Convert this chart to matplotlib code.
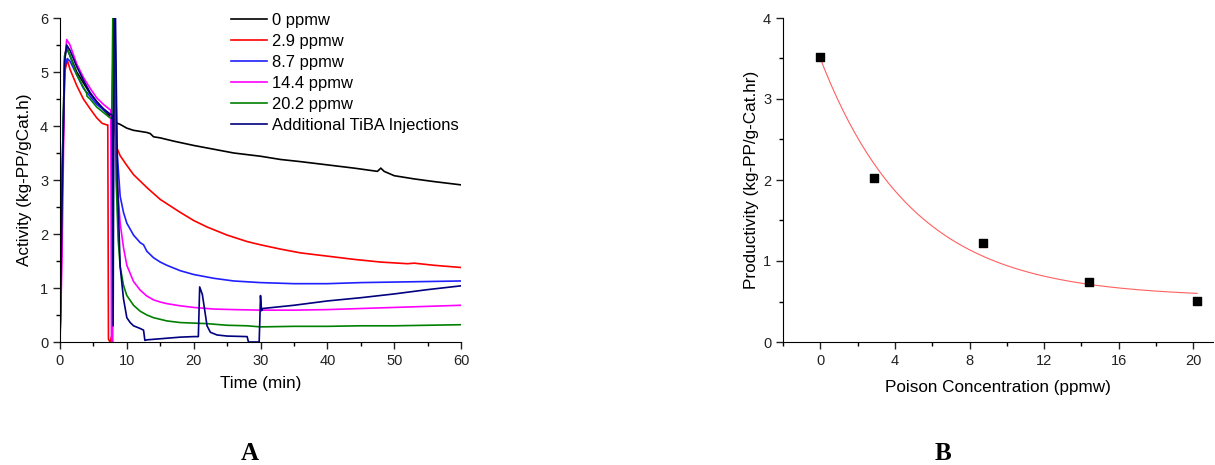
import numpy as np
from matplotlib import pyplot as plt

plt.rcParams['font.family'] = ['Liberation Sans', 'DejaVu Sans']

# ---- Panel A: activity profiles (time in min, activity in kg-PP/gCat.h) ----
t_0ppm = [0, 0.3, 0.7, 1.0, 1.5, 2.5, 3.5, 4.5, 5.5, 6.5, 7.5, 8.0, 9, 10, 11, 12, 13, 13.5,
          14, 15, 17, 20, 23, 26, 30, 33, 36, 40, 44, 47.5, 48, 48.5, 50, 53, 56, 60]
a_0ppm = [0, 3.0, 5.3, 5.45, 5.3, 5.0, 4.8, 4.6, 4.45, 4.3, 4.18, 4.08, 4.03, 3.96, 3.92, 3.90, 3.88, 3.86,
          3.80, 3.78, 3.72, 3.64, 3.57, 3.50, 3.44, 3.38, 3.34, 3.28, 3.22, 3.16, 3.22, 3.16, 3.08, 3.02, 2.97, 2.91]

t_2p9 = [0, 0.3, 0.7, 1.1, 1.5, 2.5, 3.5, 4.5, 5.5, 6.3, 7.0, 7.15, 7.25, 7.5, 7.7, 7.85, 7.95,
         8.15, 8.5, 9, 10, 11, 12, 13, 14, 15, 16.5, 18, 20, 22, 25, 28, 30, 33, 36, 40, 44, 48, 52, 53, 56, 60]
a_2p9 = [0, 2.5, 5.0, 5.22, 5.05, 4.75, 4.5, 4.32, 4.15, 4.05, 4.02, 4.02, 0.05, 0.0, 0.1, 0.0, 6.0,
         4.0, 3.60, 3.45, 3.27, 3.1, 2.98, 2.86, 2.75, 2.64, 2.52, 2.40, 2.25, 2.13, 1.98, 1.86, 1.80, 1.72, 1.65, 1.59, 1.53, 1.48, 1.45, 1.46, 1.42, 1.38]

t_8p7 = [0, 0.3, 0.7, 1.1, 1.5, 2.5, 3.5, 4.5, 5.5, 6.5, 7.5, 7.8, 8.0, 8.2, 8.5, 9, 9.5, 10, 11,
         12, 12.5, 13, 14, 15, 16, 18, 20, 23, 26, 30, 35, 40, 45, 50, 55, 60]
a_8p7 = [0, 2.8, 5.1, 5.25, 5.2, 4.95, 4.7, 4.55, 4.4, 4.3, 4.22, 4.2, 6.0, 6.0, 3.6, 2.7, 2.4, 2.2, 1.98,
         1.84, 1.80, 1.68, 1.56, 1.48, 1.42, 1.32, 1.25, 1.18, 1.13, 1.10, 1.08, 1.08, 1.10, 1.11, 1.12, 1.13]

t_14p4 = [0, 0.3, 0.7, 1.0, 1.5, 2.5, 3.5, 4.5, 5.5, 6.5, 7.5, 7.6, 7.7, 7.85, 8.1, 8.3, 8.6, 9, 9.5,
          10, 11, 12, 13, 14, 15, 16, 18, 20, 23, 26, 30, 35, 40, 45, 50, 55, 60]
a_14p4 = [0, 1.5, 5.2, 5.6, 5.5, 5.15, 4.9, 4.7, 4.52, 4.4, 4.3, 4.3, 0.05, 0.0, 6.0, 4.0, 2.9, 2.2, 1.75,
          1.42, 1.12, 0.96, 0.85, 0.78, 0.74, 0.71, 0.67, 0.64, 0.61, 0.60, 0.59, 0.59, 0.60, 0.62, 0.64, 0.66, 0.68]

t_20p2 = [0, 0.3, 0.7, 1.0, 1.5, 2.5, 3.5, 4.0, 4.05, 4.5, 5.5, 6.5, 7.5, 7.75, 7.9, 8.1, 8.4, 8.7, 9,
          9.5, 10, 11, 12, 13, 14, 16, 18, 20, 22, 25, 28, 30, 35, 40, 45, 50, 55, 60]
a_20p2 = [0, 3.0, 5.3, 5.45, 5.3, 4.95, 4.72, 4.6, 4.55, 4.5, 4.35, 4.25, 4.15, 4.15, 6.0, 6.0, 3.0, 1.9, 1.4,
          1.05, 0.86, 0.68, 0.57, 0.50, 0.45, 0.39, 0.36, 0.35, 0.34, 0.31, 0.30, 0.28, 0.29, 0.29, 0.30, 0.30, 0.31, 0.32]

t_tiba = [0, 0.3, 0.7, 1.0, 1.5, 2.5, 3.5, 4.5, 5.5, 6.5, 7.5, 7.8, 7.95, 8.1, 8.3, 8.6, 9, 9.5, 10, 10.5, 11,
          12, 12.5, 12.7, 13, 15, 18, 20, 20.7, 20.9, 21.3, 21.7, 22.0, 22.5, 23.5, 25, 28.0, 28.2, 29.8,
          29.9, 30.0, 30.15, 30.3, 35, 40, 45, 50, 55, 60]
a_tiba = [0, 2.6, 5.2, 5.5, 5.4, 5.1, 4.85, 4.62, 4.45, 4.32, 4.22, 4.2, 0.3, 6.0, 6.0, 3.0, 1.4, 0.8, 0.45, 0.36, 0.30,
          0.25, 0.22, 0.03, 0.04, 0.06, 0.09, 0.10, 0.10, 1.02, 0.88, 0.55, 0.30, 0.18, 0.13, 0.11, 0.10, 0.0, 0.0,
          0.4, 0.86, 0.58, 0.62, 0.68, 0.76, 0.82, 0.89, 0.97, 1.04]

series = [
    (t_0ppm, a_0ppm, '0 ppmw', 'black'),
    (t_2p9, a_2p9, '2.9 ppmw', '#ff0000'),
    (t_8p7, a_8p7, '8.7 ppmw', '#1f1fff'),
    (t_14p4, a_14p4, '14.4 ppmw', '#ff00ff'),
    (t_20p2, a_20p2, '20.2 ppmw', '#008000'),
    (t_tiba, a_tiba, 'Additional TiBA Injections', '#000080'),
]

# ---- Panel B: productivity vs poison concentration ----
poison_ppmw = [0, 2.9, 8.7, 14.4, 20.2]
productivity = [3.52, 2.03, 1.22, 0.74, 0.51]
# exponential decay fit y = y0 + A*exp(-x/t1)
fit_y0, fit_A, fit_t1 = 0.55, 2.95, 4.96

fig = plt.figure(figsize=(12.15, 4.65), dpi=100)
axA = fig.add_axes([60/1215, 1 - 342/465, 401/1215, 324/465])
axB = fig.add_axes([783/1215, 1 - 342/465, 430/1215, 324/465])

for t, a, lab, c in series:
    axA.plot(t, a, color=c, lw=1.2, label=lab)

axA.set_xlim(0, 60)
axA.set_ylim(0, 6)
axA.set_xticks([0, 10, 20, 30, 40, 50, 60])
axA.set_xticks(np.arange(0, 61, 5), minor=True)
axA.set_yticks([0, 1, 2, 3, 4, 5, 6])
axA.set_yticks(np.arange(0, 6.01, 0.5), minor=True)
axA.set_xlabel('Time (min)', fontsize=12.3, labelpad=6)
axA.set_ylabel('Activity (kg-PP/gCat.h)', fontsize=12.3, labelpad=6)
axA.legend(loc='upper left', bbox_to_anchor=(0.41, 1.035), frameon=False, fontsize=11.9,
           handlelength=2.2, handletextpad=0.3, labelspacing=0.36, borderaxespad=0)

xfit = np.linspace(0, 20.2, 200)
axB.plot(xfit, fit_y0 + fit_A * np.exp(-xfit / fit_t1), color='#ff6060', lw=0.8)
axB.scatter(poison_ppmw, productivity, marker='s', s=36, color='black', zorder=3)
axB.set_xlim(-1.63, 21.05)
axB.set_ylim(0, 4)
axB.set_xticks([0, 4, 8, 12, 16, 20])
axB.set_xticks(np.arange(-2, 21, 2), minor=True)
axB.set_yticks([0, 1, 2, 3, 4])
axB.set_yticks(np.arange(0, 4.01, 0.5), minor=True)
axB.set_xlabel('Poison Concentration (ppmw)', fontsize=12.3, labelpad=9)
axB.set_ylabel('Productivity (kg-PP/g-Cat.hr)', fontsize=12.3, labelpad=3)

for ax in (axA, axB):
    ax.spines['top'].set_visible(False)
    ax.spines['right'].set_visible(False)
    ax.tick_params(which='major', direction='out', length=5, width=1, labelsize=10.5, colors='#222222')
    ax.tick_params(which='minor', direction='out', length=3, width=1)

fig.text(250/1215, 1 - 453/465, 'A', fontsize=18, fontweight='bold', family='Liberation Serif',
         ha='center', va='center')
fig.text(943/1215, 1 - 453/465, 'B', fontsize=18, fontweight='bold', family='Liberation Serif',
         ha='center', va='center')

fig.savefig('out.png', dpi=100)
